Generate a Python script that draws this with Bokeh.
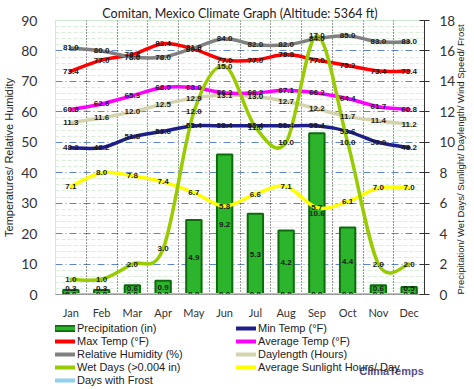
import numpy as np
from bokeh.plotting import figure
from bokeh.layouts import column
from bokeh.models import (Range1d, LinearAxis, FixedTicker, Grid, Label, Legend,
                          LegendItem, Title)
from bokeh.core.properties import value
from bokeh.embed import file_html
from bokeh.resources import INLINE

# ---------------- data ----------------
months = ["Jan", "Feb", "Mar", "Apr", "May", "Jun", "Jul", "Aug", "Sep", "Oct", "Nov", "Dec"]
precip = [0.3, 0.3, 0.6, 0.9, 4.9, 9.2, 5.3, 4.2, 10.6, 4.4, 0.6, 0.5]
max_temp = [73.4, 77.0, 78.8, 82.4, 80.6, 77.0, 77.0, 78.8, 77.0, 75.2, 73.4, 73.4]
min_temp = [48.2, 48.2, 51.8, 53.6, 55.4, 55.4, 55.4, 55.4, 55.4, 53.6, 50.0, 48.2]
avg_temp = [60.8, 62.6, 65.3, 68.0, 68.0, 66.2, 66.2, 67.1, 66.2, 64.4, 61.7, 60.8]
humidity = [81.0, 80.0, 78.0, 78.0, 81.0, 84.0, 82.0, 82.0, 84.0, 85.0, 83.0, 83.0]
daylength = [11.3, 11.6, 12.0, 12.5, 12.9, 13.1, 13.0, 12.7, 12.2, 11.7, 11.4, 11.2]
wet_days = [1.0, 1.0, 2.0, 3.0, 12.0, 15.0, 11.0, 10.0, 17.0, 10.0, 2.0, 2.0]
sunlight = [7.1, 8.0, 7.8, 7.4, 6.7, 5.8, 6.6, 7.1, 5.7, 6.1, 7.0, 7.0]
frost = [0.0, 0.0, 0.0, 0.0, 0.0, 0.0, 0.0, 0.0, 0.0, 0.0, 0.0, 0.0]
left_ticks = [0, 10, 20, 30, 40, 50, 60, 70, 80, 90]
right_ticks = [0, 2, 4, 6, 8, 10, 12, 14, 16, 18]

title_text = "Comitan, Mexico Climate Graph (Altitude: 5364 ft)"
left_label = "Temperatures/ Relative Humidity"
right_label = "Precipitation/ Wet Days/ Sunlight/ Daylength/ Wind Speed/ Frost"
brand = "ClimaTemps"

xc = np.arange(len(months)) + 0.5

FONT = "Liberation Sans"
TFONT = "Lato"

W = 474
H1 = 321
H2 = 389 - H1
BL, BR = 47, 47

p = figure(width=W, height=H1, x_range=Range1d(0, 12), y_range=Range1d(0, 90),
           min_border_left=BL, min_border_right=BR, min_border_top=20, min_border_bottom=19,
           toolbar_location=None, output_backend="svg", title=None)
p.add_layout(Title(text=title_text, align="center", text_font=TFONT, text_font_size="12.5px",
                   text_font_style="normal", text_color="#222222", standoff=0, offset=0), "above")
p.extra_y_ranges = {"right": Range1d(0, 18)}
p.outline_line_color = "#cfe8cf"
p.background_fill_color = "white"
p.border_fill_color = "white"
p.xgrid.visible = False
p.ygrid.visible = False

# grids
minor = [v for v in range(2, 91, 2) if v % 10]
g_minor = Grid(dimension=1, ticker=FixedTicker(ticks=minor), grid_line_color="#d9efd9",
               grid_line_dash="4 2", grid_line_width=1)
g_major = Grid(dimension=1, ticker=FixedTicker(ticks=left_ticks[1:-1]), grid_line_color="#5f86c8",
               grid_line_dash="7 3 1 3", grid_line_width=1)
g_vert = Grid(dimension=0, ticker=FixedTicker(ticks=list(range(1, 12))), grid_line_color="#333333",
              grid_line_dash="1 2", grid_line_width=1)
for g in (g_minor, g_major, g_vert):
    p.add_layout(g)

# axes
p.yaxis.ticker = FixedTicker(ticks=left_ticks)
p.yaxis.axis_line_color = None
p.yaxis.major_tick_line_color = None
p.yaxis.minor_tick_line_color = None
p.yaxis.major_label_standoff = 12
p.yaxis.major_label_text_font = TFONT
p.yaxis.major_label_text_font_size = "14px"
p.yaxis.major_label_text_color = "#333333"
p.yaxis.axis_label = left_label
p.yaxis.axis_label_standoff = 3
p.yaxis.axis_label_text_font = FONT
p.yaxis.axis_label_text_font_size = "11px"
p.yaxis.axis_label_text_font_style = "normal"
p.yaxis.axis_label_text_color = "#222222"

p.xaxis.ticker = FixedTicker(ticks=list(xc))
p.xaxis.major_label_overrides = {float(x): m for x, m in zip(xc, months)}
p.xaxis.axis_line_color = "#999999"
p.xaxis.major_tick_line_color = None
p.xaxis.minor_tick_line_color = None
p.xaxis.major_label_standoff = 5
p.xaxis.major_label_text_font = TFONT
p.xaxis.major_label_text_font_size = "11px"
p.xaxis.major_label_text_color = "#333333"

ra = LinearAxis(y_range_name="right", ticker=FixedTicker(ticks=right_ticks))
ra.axis_line_color = "#333333"
ra.major_tick_line_color = "#333333"
ra.major_tick_in = 5
ra.major_tick_out = 5
ra.minor_tick_line_color = None
ra.major_label_standoff = 10
ra.major_label_text_font = TFONT
ra.major_label_text_font_size = "13.5px"
ra.major_label_text_color = "#333333"
ra.axis_label = right_label
ra.axis_label_standoff = 2
ra.axis_label_text_font = FONT
ra.axis_label_text_font_size = "9.5px"
ra.axis_label_text_font_style = "normal"
ra.axis_label_text_color = "#222222"
try:
    ra.axis_label_orientation = np.pi / 2
    ra.axis_label_align = "start"
except Exception:
    pass
p.add_layout(ra, "right")

# bars
p.vbar(x=xc, top=precip, width=0.5, bottom=0, fill_color="#2cb52c", line_color="#0d6b0d",
       line_width=2, y_range_name="right")


def smooth_segments(xs, ys):
    x = np.asarray(xs, float)
    y = np.asarray(ys, float)
    n = len(x)
    i = np.arange(n - 1)
    i0 = np.maximum(i - 1, 0)
    i3 = np.minimum(i + 2, n - 1)
    cx0 = x[i] + (x[i + 1] - x[i0]) / 6
    cy0 = y[i] + (y[i + 1] - y[i0]) / 6
    cx1 = x[i + 1] - (x[i3] - x[i]) / 6
    cy1 = y[i + 1] - (y[i3] - y[i]) / 6
    return dict(x0=x[i], y0=y[i], x1=x[i + 1], y1=y[i + 1], cx0=cx0, cy0=cy0, cx1=cx1, cy1=cy1)


series = [
    # label, data, color, width, right axis?
    ("Days with Frost", frost, "#8fd0ec", 3, True),
    ("Daylength (Hours)", daylength, "#d3d3ad", 3.5, True),
    ("Average Sunlight Hours/ Day", sunlight, "#ffff00", 3.5, True),
    ("Min Temp (°F)", min_temp, "#1f1f8a", 3.5, False),
    ("Average Temp (°F)", avg_temp, "#ff00ff", 3.5, False),
    ("Max Temp (°F)", max_temp, "#ff0000", 3.5, False),
    ("Relative Humidity (%)", humidity, "#808080", 3.5, False),
    ("Wet Days (>0.004 in)", wet_days, "#99cc00", 3.5, True),
]
colors = {name: color for name, _, color, _, _ in series}

for name, data, color, w, right in series:
    kw = {"y_range_name": "right"} if right else {}
    seg = smooth_segments(xc, data)
    p.bezier(line_color=color, line_width=w, line_cap="round", **seg, **kw)

# data labels
lab_kw = dict(text_font=value(FONT), text_font_size="8px", text_font_style="bold",
              text_align="center", text_baseline="middle", text_color="#1a1a1a")
for name, data, color, w, right in series:
    kw = {"y_range_name": "right"} if right else {}
    p.text(x=xc, y=data, text=[f"{v:.1f}" for v in data], **lab_kw, **kw)
pr_arr = np.asarray(precip)
p.text(x=xc, y=np.maximum(pr_arr / 2, 0.4), text=[f"{v:.1f}" for v in precip],
       y_range_name="right", **lab_kw)

# ---------------- legend strip (frame aligned with the chart above) ----------------
p2 = figure(width=W, height=H2, x_range=Range1d(0, W - BL - BR), y_range=Range1d(0, H2),
            x_axis_type=None, y_axis_type=None,
            min_border_left=BL, min_border_right=BR, min_border_top=0, min_border_bottom=0,
            toolbar_location=None, output_backend="svg", title=None)
p2.grid.visible = False
p2.outline_line_color = None
p2.border_fill_color = "white"
p2.background_fill_color = "white"

dummy = {}
for name in colors:
    dummy[name] = p2.line(x=[np.nan], y=[np.nan], line_color=colors[name], line_width=4,
                          line_cap="round")
pr_dark = p2.line(x=[np.nan], y=[np.nan], line_color="#0d6b0d", line_width=7, line_cap="round")
pr_light = p2.line(x=[np.nan], y=[np.nan], line_color="#2cb52c", line_width=3.5, line_cap="butt")


def make_legend(items, loc):
    lg = Legend(items=items, location=loc, orientation="vertical",
                label_text_font=FONT, label_text_font_size="11px", label_text_color="#222222",
                glyph_width=20, glyph_height=12, label_height=12, spacing=1,
                label_standoff=2, padding=0, margin=0, border_line_color=None,
                background_fill_alpha=0)
    p2.add_layout(lg)


left_items = [LegendItem(label="Precipitation (in)", renderers=[pr_dark, pr_light])]
for nm in ["Max Temp (°F)", "Relative Humidity (%)", "Wet Days (>0.004 in)", "Days with Frost"]:
    left_items.append(LegendItem(label=nm, renderers=[dummy[nm]]))
right_items = [LegendItem(label=nm, renderers=[dummy[nm]])
               for nm in ["Min Temp (°F)", "Average Temp (°F)", "Daylength (Hours)",
                          "Average Sunlight Hours/ Day"]]
make_legend(left_items, (0, 3))
make_legend(right_items, (181, 16))

p2.add_layout(Label(x=336, y=19, x_units="screen", y_units="screen", text=brand,
                    text_font=FONT, text_font_size="11px", text_font_style="bold",
                    text_color="#5b4e8c", text_align="center", text_baseline="middle"))

layout = column(p, p2, spacing=0)
open("out.html", "w").write(file_html(layout, INLINE))
